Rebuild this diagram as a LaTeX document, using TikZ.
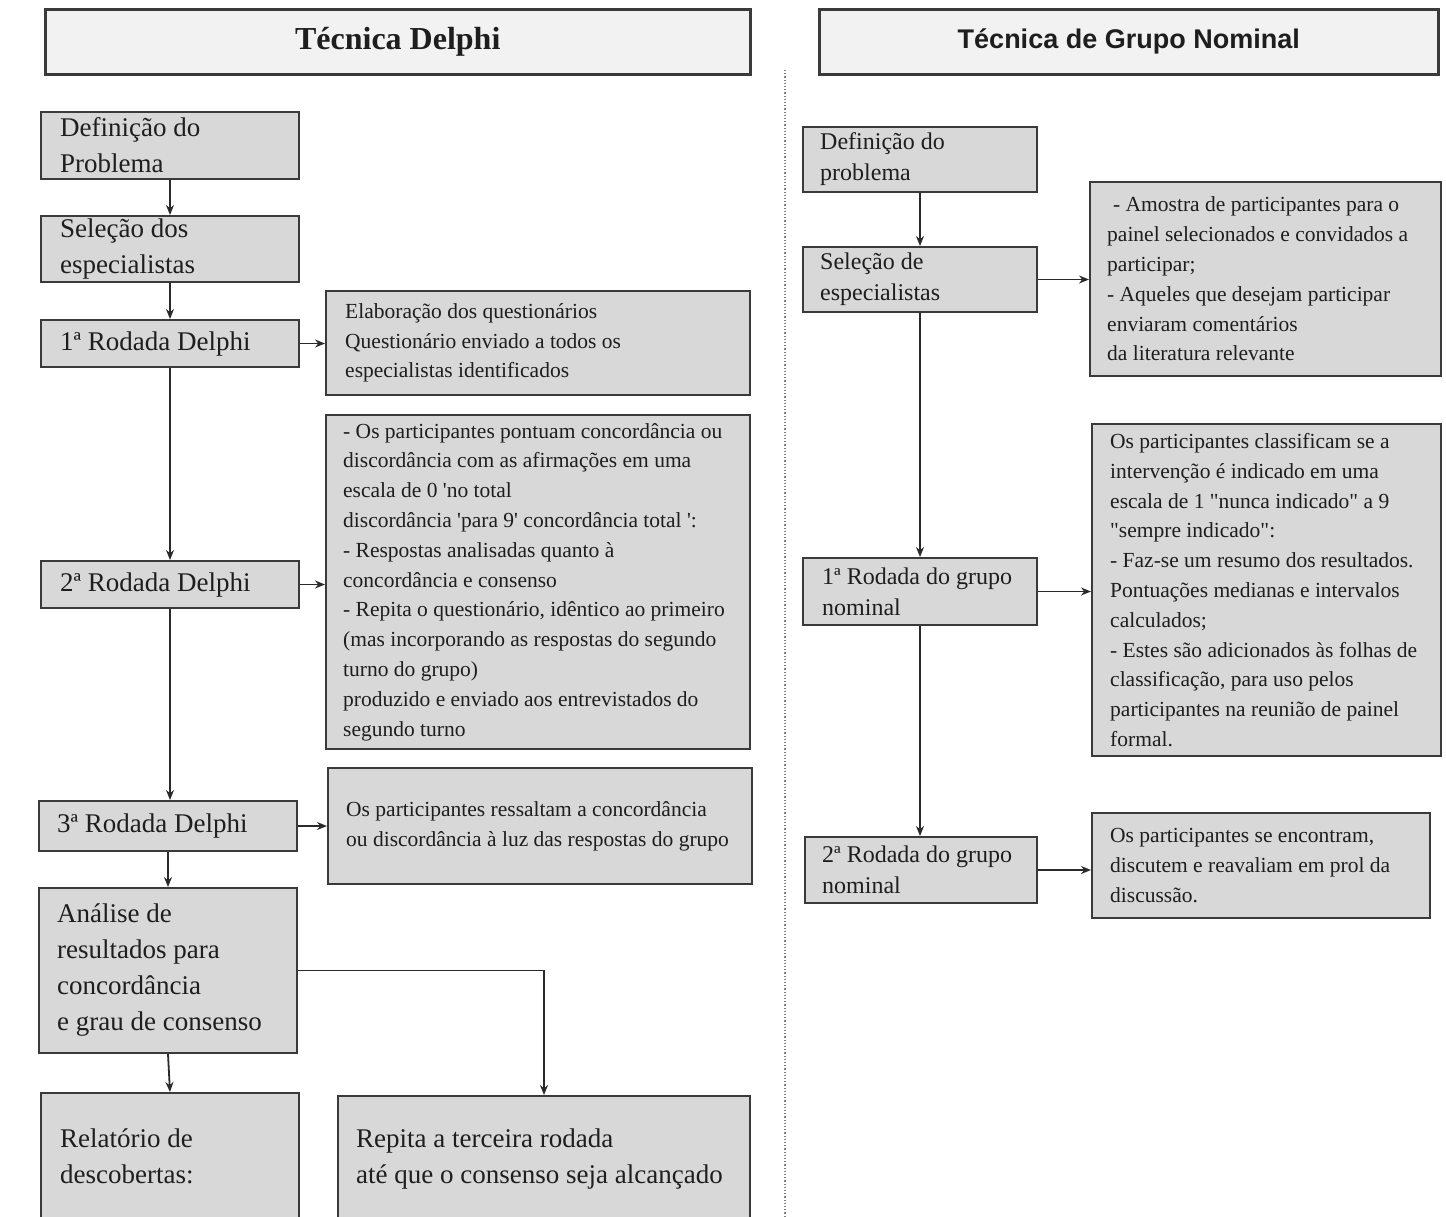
\documentclass[tikz,border=0pt]{standalone}
\usepackage{fontspec}
\setmainfont{Liberation Serif}[Ligatures=TeXOff]
\newfontfamily\headsans{Liberation Sans}
\usetikzlibrary{arrows.meta}
\definecolor{boxc}{HTML}{D8D8D8}
\definecolor{headc}{HTML}{F2F2F2}
\definecolor{edgec}{HTML}{3A3A3A}
\definecolor{txtc}{HTML}{1E1E1E}
\definecolor{arrc}{HTML}{2A2A2A}
\begin{document}
\begin{tikzpicture}[x=1pt,y=-1pt,
 gbox/.style={draw=edgec, fill=boxc, line width=2pt, inner sep=0pt, anchor=north west},
 hbox/.style={draw=edgec, fill=headc, line width=2.5pt, inner sep=0pt, anchor=north west, text=txtc},
 tb/.style={anchor=west, inner sep=0pt, align=left, text=txtc, font=\fontsize{27}{36}\selectfont},
 tm/.style={anchor=west, inner sep=0pt, align=left, text=txtc, font=\fontsize{24}{31}\selectfont},
 ts/.style={anchor=west, inner sep=0pt, align=left, text=txtc, font=\fontsize{21.5}{29.8}\selectfont},
 arr/.style={draw=arrc, line width=1.8pt, -{Stealth[length=10pt,width=8pt]}},
]
\useasboundingbox (0,0) rectangle (1446,1216);

% headers
\node[hbox, minimum width=705, minimum height=65, font=\bfseries\fontsize{32}{38}\selectfont] (hd) at (44,8) {Técnica Delphi};
\node[hbox, minimum width=619, minimum height=65, font=\headsans\bfseries\fontsize{27}{32}\selectfont] (hg) at (818,8) {Técnica de Grupo Nominal};

% separator
\coordinate (dtop) at (785,70);
\coordinate (dbot) at (785,1216);
\draw[gray, dotted, line width=1.2pt] (dtop) -- (dbot);

% ---- Delphi column ----
\node[gbox, minimum width=258, minimum height=67] (def) at (40,111) {};
\node[tb] (deft) at ([xshift=20pt]def.west) {Definição do\\Problema};
\node[gbox, minimum width=258, minimum height=66] (sel) at (40,215) {};
\node[tb] (selt) at ([xshift=20pt]sel.west) {Seleção dos\\especialistas};
\node[gbox, minimum width=258, minimum height=47] (r1) at (40,319) {};
\node[tb] (r1t) at ([xshift=20pt]r1.west) {1ª Rodada Delphi};
\node[gbox, minimum width=424, minimum height=104] (elab) at (325,290) {};
\node[ts] (elabt) at ([xshift=20pt]elab.west) {Elaboração dos questionários\\Questionário enviado a todos os\\especialistas identificados};
\node[gbox, minimum width=258, minimum height=47] (r2) at (40,560) {};
\node[tb] (r2t) at ([xshift=20pt]r2.west) {2ª Rodada Delphi};
\node[gbox, minimum width=424, minimum height=334] (big) at (325,414) {};
\node[ts] (bigt) at ([xshift=18pt]big.west) {- Os participantes pontuam concordância ou\\discordância com as afirmações em uma\\escala de 0 'no total\\discordância 'para 9' concordância total ':\\- Respostas analisadas quanto à\\concordância e consenso\\- Repita o questionário, idêntico ao primeiro\\(mas incorporando as respostas do segundo\\turno do grupo)\\produzido e enviado aos entrevistados do\\segundo turno};
\node[gbox, minimum width=258, minimum height=50] (r3) at (38,800) {};
\node[tb] (r3t) at ([xshift=19pt]r3.west) {3ª Rodada Delphi};
\node[gbox, minimum width=424, minimum height=116] (osr) at (327,767) {};
\node[ts] (osrt) at ([xshift=19pt]osr.west) {Os participantes ressaltam a concordância\\ou discordância à luz das respostas do grupo};
\node[gbox, minimum width=258, minimum height=165] (anal) at (38,887) {};
\node[tb] (analt) at ([xshift=19pt]anal.west) {Análise de\\resultados para\\concordância\\e grau de consenso};
\node[gbox, minimum width=258, minimum height=126] (rel) at (40,1092) {};
\node[tb] (relt) at ([xshift=20pt]rel.west) {Relatório de\\descobertas:};
\node[gbox, minimum width=412, minimum height=126] (rep) at (337,1095) {};
\node[tb] (rept) at ([xshift=19pt]rep.west) {Repita a terceira rodada\\até que o consenso seja alcançado};

\draw[arr] (def.south) -- (sel.north);
\draw[arr] (sel.south) -- (r1.north);
\draw[arr] (r1.south) -- (r2.north);
\draw[arr] (r2.south) -- (r2.south |- r3.north);
\draw[arr] (r3.south) -- (anal.north);
\draw[arr] (anal.south) -- (rel.north);
\draw[arr] (anal.east) -| (rep.north);
\draw[arr] (r1.east) -- (elab.west |- r1.east);
\draw[arr] (r2.east) -- (big.west |- r2.east);
\draw[arr] (r3.east) -- (osr.west |- r3.east);

% ---- Nominal group column ----
\node[gbox, minimum width=234, minimum height=65] (def2) at (802,126) {};
\node[tm] (def2t) at ([xshift=18pt]def2.west) {Definição do\\problema};
\node[gbox, minimum width=234, minimum height=65] (sel2) at (802,246) {};
\node[tm] (sel2t) at ([xshift=18pt]sel2.west) {Seleção de\\especialistas};
\node[gbox, minimum width=351, minimum height=194] (amo) at (1089,181) {};
\node[ts] (amot) at ([xshift=18pt]amo.west) {\hspace{6pt}- Amostra de participantes para o\\painel selecionados e convidados a\\participar;\\- Aqueles que desejam participar\\enviaram comentários\\da literatura relevante};
\node[gbox, minimum width=234, minimum height=67] (r1g) at (802,557) {};
\node[tm] (r1gt) at ([xshift=20pt]r1g.west) {1ª Rodada do grupo\\nominal};
\node[gbox, minimum width=349, minimum height=332] (cls) at (1091,423) {};
\node[ts] (clst) at ([xshift=19pt]cls.west) {Os participantes classificam se a\\intervenção é indicado em uma\\escala de 1 "nunca indicado" a 9\\"sempre indicado":\\- Faz-se um resumo dos resultados.\\Pontuações medianas e intervalos\\calculados;\\- Estes são adicionados às folhas de\\classificação, para uso pelos\\participantes na reunião de painel\\formal.};
\node[gbox, minimum width=232, minimum height=66] (r2g) at (804,836) {};
\node[tm] (r2gt) at ([xshift=18pt]r2g.west) {2ª Rodada do grupo\\nominal};
\node[gbox, minimum width=338, minimum height=105] (enc) at (1091,812) {};
\node[ts] (enct) at ([xshift=19pt]enc.west) {Os participantes se encontram,\\discutem e reavaliam em prol da\\discussão.};

\draw[arr] (def2.south) -- (sel2.north);
\draw[arr] (sel2.south) -- (r1g.north);
\draw[arr] (r1g.south) -- (r1g.south |- r2g.north);
\draw[arr] (sel2.east) -- (amo.west |- sel2.east);
\draw[arr] (r1g.east) -- (cls.west |- r1g.east);
\draw[arr] (r2g.east) -- (enc.west |- r2g.east);
\end{tikzpicture}
\end{document}
